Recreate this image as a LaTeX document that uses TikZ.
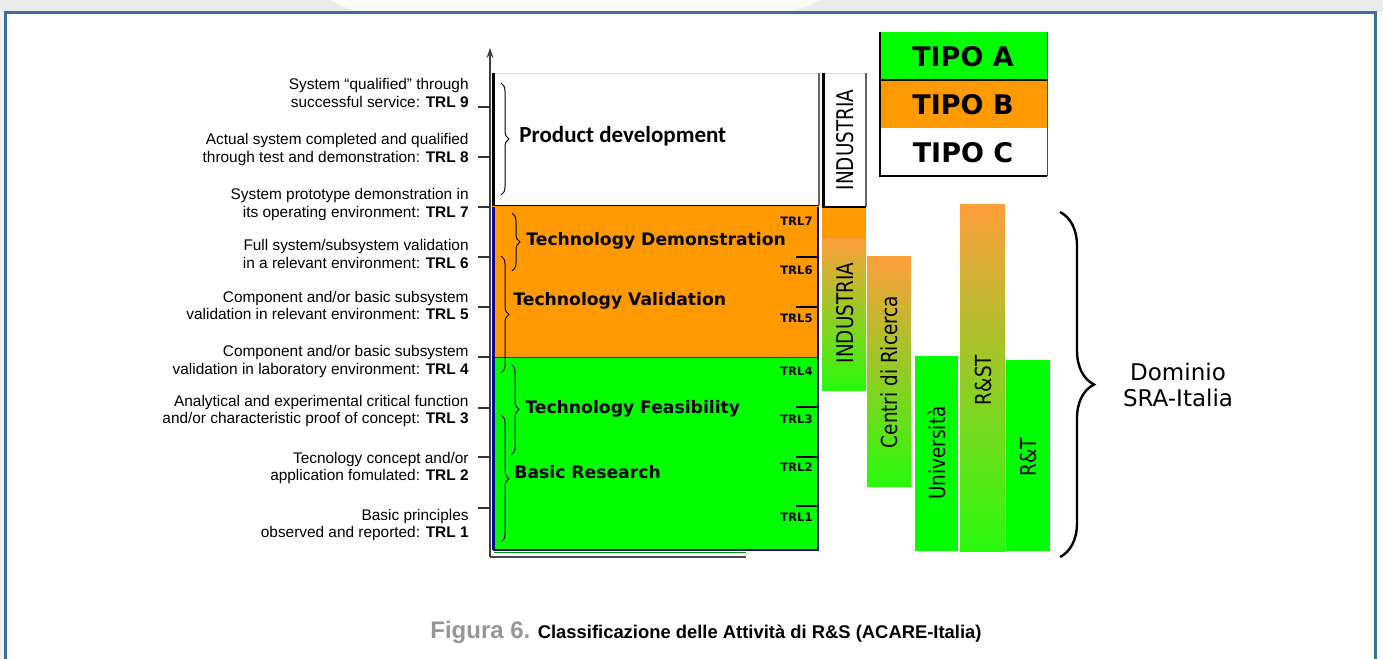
\documentclass[tikz,border=0pt]{standalone}
\usepackage{fontspec}
\setmainfont{Liberation Sans}
\newfontfamily\verd{DejaVu Sans}
\newfontfamily\calib{Carlito}
\usetikzlibrary{decorations.pathreplacing,arrows.meta}
\definecolor{frameblue}{RGB}{58,110,165}
\definecolor{orng}{RGB}{255,153,0}
\definecolor{grn}{RGB}{0,255,0}
\definecolor{navyb}{RGB}{10,10,140}
\definecolor{gorange}{RGB}{255,158,60}
\definecolor{gmid}{RGB}{212,192,48}
\definecolor{ggreen}{RGB}{40,250,12}
\definecolor{capgray}{RGB}{150,150,150}
\begin{document}
\begin{tikzpicture}[x=0.5pt,y=-0.5pt,
  lbl/.style={anchor=east, align=right, font=\fontsize{7.7}{8.6}\selectfont, inner sep=0pt},
  phase/.style={anchor=west, font=\verd\bfseries\fontsize{8.6}{10}\selectfont, inner sep=0pt},
  trl/.style={anchor=east, font=\verd\bfseries\fontsize{5.8}{7}\selectfont, inner sep=0pt},
  vlab/.style={rotate=90, font=\verd\fontsize{9.2}{11}\selectfont, inner sep=0pt},
  tipo/.style={font=\verd\bfseries\fontsize{13.5}{15}\selectfont, inner sep=0pt},
  brc/.style={decorate, decoration={brace, amplitude=4pt}, line width=0.5pt},
  tk/.style={line width=1pt, black!80},
  grad/.style={top color=gorange, middle color=gmid, bottom color=ggreen}
]
\useasboundingbox (0,0) rectangle (1383,659);
% background top strip
\fill[black!8] (0,0) rectangle (1383,12);
\fill[black!2] (330,0) -- (820,0) .. controls (800,10) .. (780,12) -- (370,12) .. controls (350,10) .. (330,0) -- cycle;
\fill[black!6] (0,12) rectangle (4,659);
% frame
\draw[frameblue, line width=1.5pt] (5,670) -- (5,12) -- (1375,12) -- (1375,670);

% legend
\fill[grn] (880,32) rectangle (1047,80);
\fill[orng] (880,80) rectangle (1047,128);
\fill[white] (880,128) rectangle (1047,176);
\draw[black, line width=0.8pt] (880,32) -- (880,176) -- (1047,176);
\draw[black, line width=0.8pt] (880,80) -- (1047,80);
\draw[black!70, line width=0.5pt] (1047,32) -- (1047,176);
\node[tipo] (ta) at (963,57) {TIPO A};
\node[tipo] (tb) at (963,105) {TIPO B};
\node[tipo] (tc) at (963,153) {TIPO C};

% main stacked bars
\fill[white] (492,73) rectangle (819,205);
\draw[black!15, line width=0.4pt] (492,73) -- (819,73);
\draw[black!60, line width=0.8pt] (819,73) -- (819,205);
\draw[black, line width=1.5pt] (493,73) -- (493,206);
\fill[orng] (492,206) rectangle (819,357);
\fill[grn] (492,357) rectangle (819,550);
\draw[black, line width=0.8pt] (492,205.5) -- (819,205.5);
\draw[black!80, line width=0.5pt] (492,357) -- (819,357);
\draw[navyb, line width=1.5pt] (493.5,207) -- (493.5,550);
\draw[navyb, line width=0.9pt] (818,207) -- (818,550) -- (493,550);
\draw[black!40!green, line width=0.8pt] (494,552.5) -- (746,552.5);

% axis
\draw[black!75, line width=0.8pt, -{Stealth[length=5pt,width=3.5pt]}] (490,557) -- (490,48);
\draw[black!70, line width=0.8pt] (490,557) -- (746,557);
\foreach \yy in {107,157,207,257,307,357,408,457,508}
  \draw[tk] (478,\yy) -- (490,\yy);

% left labels
\node[lbl] (l9) at (469,93) {System “qualified” through\\successful service: \textbf{TRL 9}};
\node[lbl] (l8) at (469,149.5) {Actual system completed and qualified\\through test and demonstration: \textbf{TRL 8}};
\node[lbl] (l7) at (469,204.5) {System prototype demonstration in\\its operating environment: \textbf{TRL 7}};
\node[lbl] (l6) at (469,254) {Full system/subsystem validation\\in a relevant environment: \textbf{TRL 6}};
\node[lbl] (l5) at (469,305.5) {Component and/or basic subsystem\\validation in relevant environment: \textbf{TRL 5}};
\node[lbl] (l4) at (469,361.5) {Component and/or basic subsystem\\validation in laboratory environment: \textbf{TRL 4}};
\node[lbl] (l3) at (469,411) {Analytical and experimental critical function\\and/or characteristic proof of concept: \textbf{TRL 3}};
\node[lbl] (l2) at (469,468) {Tecnology concept and/or\\application fomulated: \textbf{TRL 2}};
\node[lbl] (l1) at (469,525) {Basic principles\\observed and reported: \textbf{TRL 1}};

% right TRL labels and ticks
\foreach \yy in {257,307,407,457,506}
  \draw[black, line width=1pt] (796,\yy) -- (818,\yy);
\node[trl] (r7) at (813,221) {TRL7};
\node[trl] (r6) at (813,270) {TRL6};
\node[trl] (r5) at (813,318) {TRL5};
\node[trl] (r4) at (813,371) {TRL4};
\node[trl] (r3) at (813,419) {TRL3};
\node[trl] (r2) at (813,467) {TRL2};
\node[trl] (r1) at (813,517) {TRL1};

% braces
\draw[brc] (501,83) -- (501,195);
\draw[brc] (512,213) -- (512,271);
\draw[brc] (501,256) -- (501,373);
\draw[brc] (511,364) -- (511,455);
\draw[brc] (501,415) -- (501,542);

% phase labels
\node[anchor=west, inner sep=0pt, font=\calib\bfseries\fontsize{11.5}{13}\selectfont] (pd) at (519,136) {Product development};
\node[phase] (td) at (526,241) {Technology Demonstration};
\node[phase] (tv) at (513,301) {Technology Validation};
\node[phase] (tf) at (525,409) {Technology Feasibility};
\node[phase] (br) at (514,472) {Basic Research};

% INDUSTRIA (top, white)
\fill[white] (822,73) rectangle (866,207);
\draw[black!15, line width=0.4pt] (822,73) -- (866,73);
\draw[black!60, line width=0.8pt] (866,73) -- (866,207);
\draw[black, line width=1.5pt] (823,73) -- (823,207.5);
\draw[black, line width=0.8pt] (822,207) -- (866,207);
\node[vlab] (ind1) at (845,140) {\scalebox{1}[1.25]{INDUSTRIA}};

% right bars
\fill[orng] (822,208) rectangle (866,238);
\shade[grad] (822,238) rectangle (866,390);
\node[vlab] (ind2) at (845,313) {\scalebox{1}[1.25]{INDUSTRIA}};
\shade[grad] (867,256) rectangle (911,486);
\node[vlab] (cdr) at (889,372) {\scalebox{1}[1.2]{Centri di Ricerca}};
\fill[grn] (915,356) rectangle (958,551);
\node[vlab] (uni) at (937,453) {\scalebox{1}[1.2]{Università}};
\shade[grad] (960,204) rectangle (1005,551);
\node[vlab] (rst) at (983,380) {\scalebox{1}[1.2]{R\&ST}};
\fill[grn] (1006,360) rectangle (1050,551);
\node[vlab] (rt) at (1028,457) {\scalebox{1}[1.2]{R\&T}};

% big brace
\draw[decorate, decoration={brace, amplitude=17pt}, line width=1.2pt] (1060,212) -- (1060,557);
\node[align=center, inner sep=0pt, font=\verd\fontsize{11.5}{13}\selectfont] (dom) at (1178,385) {Dominio\\SRA-Italia};

% caption
\node[anchor=west, inner sep=0pt] (cap) at (430,632) {{\color{capgray}\bfseries\fontsize{12}{14}\selectfont Figura 6.} {\bfseries\fontsize{9.2}{11}\selectfont Classificazione delle Attività di R\&S (ACARE-Italia)}};
\end{tikzpicture}
\end{document}
